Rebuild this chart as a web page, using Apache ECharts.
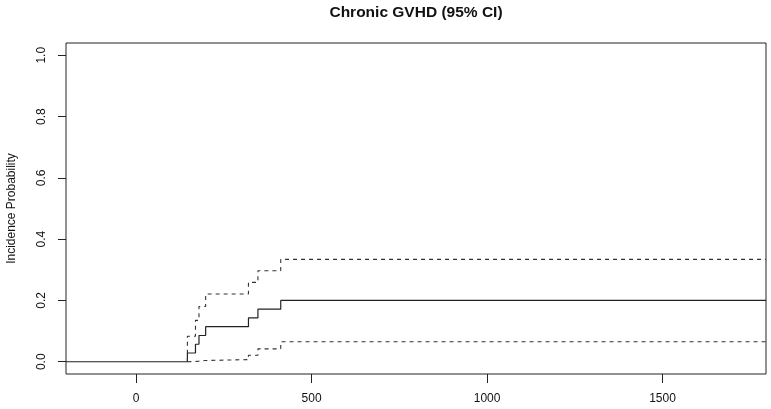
<!DOCTYPE html>
<html>
<head>
<meta charset="utf-8">
<script src="https://cdn.jsdelivr.net/npm/echarts@6/dist/echarts.min.js"></script>
<style>
html,body{margin:0;padding:0;background:#fff;}
#chart{width:771px;height:409px;}
</style>
</head>
<body>
<div id="chart"></div>
<script>
// ---- Data ----
var titleText = 'Chronic GVHD (95% CI)';
var yAxisName = 'Incidence Probability';
var xTicks = [0, 500, 1000, 1500];
var yTicks = [0, 0.2, 0.4, 0.6, 0.8, 1.0];
var xRange = [-200, 1795];
var yRange = [-0.04, 1.04];

// cumulative incidence (step function), times in days
var estTimes  = [-200, 146, 169, 179, 198, 320, 347, 412, 1795];
var incidence = [0, 0.0286, 0.0571, 0.0857, 0.1143, 0.1429, 0.1714, 0.2, 0.2];

// 95% confidence band
var ciTimes = [146, 146, 169, 179, 198, 320, 347, 412, 1795];
var upperCI = [0, 0.083, 0.135, 0.180, 0.221, 0.259, 0.297, 0.334, 0.334];
var lowerCI = [0, 0.001, 0.002, 0.004, 0.007, 0.021, 0.042, 0.065, 0.065];

function pairs(xs, ys) {
  return xs.map(function (x, i) { return [x, ys[i]]; });
}

var chart = echarts.init(document.getElementById('chart'), null, {renderer: 'canvas'});
var font = 'Liberation Sans, Arial, sans-serif';

chart.setOption({
  animation: false,
  backgroundColor: '#ffffff',
  title: {
    text: titleText,
    left: 411,
    textAlign: 'center',
    top: 0,
    textStyle: {fontFamily: font, fontSize: 15.5, fontWeight: 'bold', color: '#111'}
  },
  grid: {
    left: 66, right: 5, top: 43, bottom: 35,
    containLabel: false,
    outerBoundsMode: 'none',
    show: true, borderColor: '#222', borderWidth: 1, backgroundColor: 'transparent'
  },
  xAxis: {
    type: 'value',
    min: xRange[0], max: xRange[1],
    splitLine: {show: false},
    axisLine: {show: false, onZero: false},
    axisTick: {show: true, inside: false, length: 9, customValues: xTicks,
               lineStyle: {color: '#222', width: 1}},
    axisLabel: {show: true, customValues: xTicks, margin: 19,
                fontFamily: font, fontSize: 12, color: '#111',
                formatter: function (v) { return String(v); }}
  },
  yAxis: {
    type: 'value',
    min: yRange[0], max: yRange[1],
    name: yAxisName,
    nameLocation: 'middle',
    nameGap: 48,
    nameRotate: 90,
    nameTextStyle: {fontFamily: font, fontSize: 12, color: '#111'},
    splitLine: {show: false},
    axisLine: {show: false, onZero: false},
    axisTick: {show: true, inside: false, length: 8, customValues: yTicks,
               lineStyle: {color: '#222', width: 1}},
    axisLabel: {show: true, customValues: yTicks, rotate: 90, margin: 18,
                fontFamily: font, fontSize: 12, color: '#111',
                formatter: function (v) { return v.toFixed(1); }}
  },
  series: [
    {
      type: 'line', step: 'end', symbol: 'none', clip: true,
      data: pairs(estTimes, incidence),
      lineStyle: {color: '#222', width: 1.2, type: 'solid'}
    },
    {
      type: 'line', step: 'end', symbol: 'none', clip: true,
      data: pairs(ciTimes, upperCI),
      lineStyle: {color: '#333', width: 1.1, type: [4, 4]}
    },
    {
      type: 'line', step: 'end', symbol: 'none', clip: true,
      data: pairs(ciTimes, lowerCI),
      lineStyle: {color: '#333', width: 1.1, type: [4, 4]}
    }
  ]
});
</script>
</body>
</html>
